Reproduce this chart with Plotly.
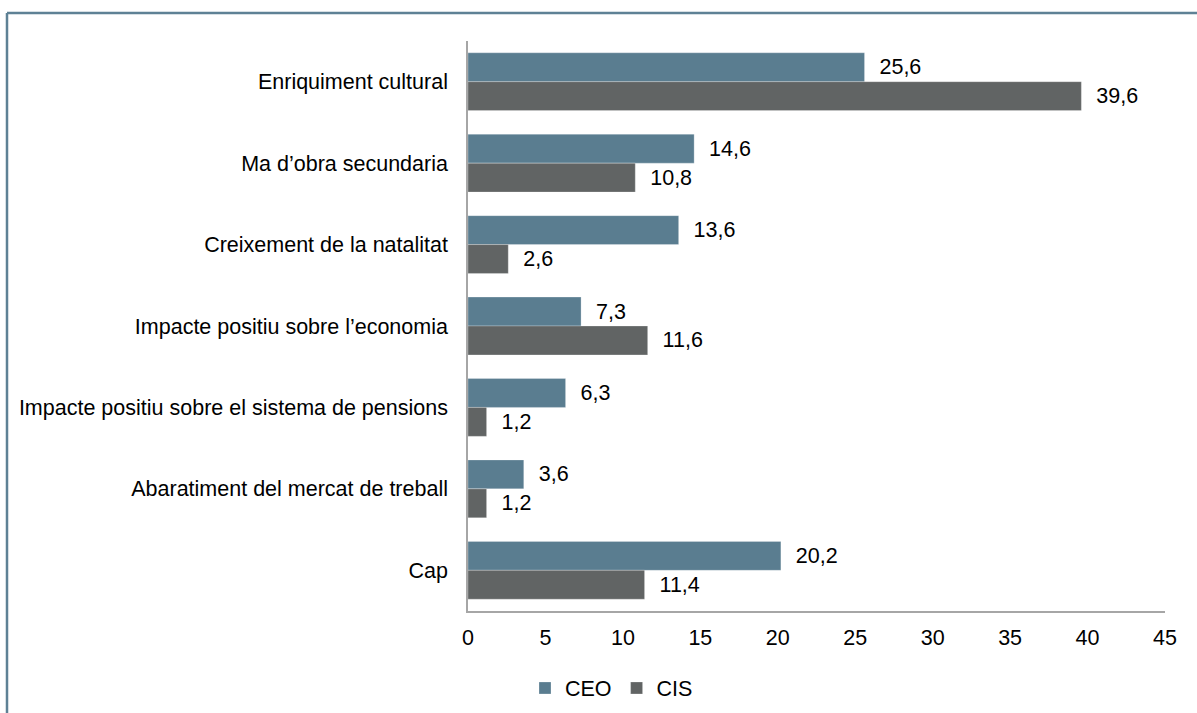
import plotly.graph_objects as go

categories = [
    "Enriquiment cultural",
    "Ma d\u2019obra secundaria",
    "Creixement de la natalitat",
    "Impacte positiu sobre l\u2019economia",
    "Impacte positiu sobre el sistema de pensions",
    "Abaratiment del mercat de treball",
    "Cap",
]
ceo_values = [25.6, 14.6, 13.6, 7.3, 6.3, 3.6, 20.2]
cis_values = [39.6, 10.8, 2.6, 11.6, 1.2, 1.2, 11.4]
x_ticks = [0, 5, 10, 15, 20, 25, 30, 35, 40, 45]

FONT = "Liberation Sans, Arial, sans-serif"
FS = 21.5
CEO_COLOR = "#5A7D90"
CIS_COLOR = "#616464"

fig = go.Figure()
for name, vals, col in [("CEO", ceo_values, CEO_COLOR), ("CIS", cis_values, CIS_COLOR)]:
    fig.add_trace(go.Bar(
        name=name, y=categories, x=vals, orientation="h",
        marker=dict(color=col, line=dict(color="rgba(255,255,255,0.5)", width=0.5)),
        texttemplate="\u00a0\u00a0%{x:.1f}", textposition="outside",
        constraintext="none", cliponaxis=False,
        textfont=dict(family=FONT, size=FS, color="#000000"),
    ))

W, H = 1197, 713
L, R, T, B = 468, 32, 41, 102
pw, ph = W - L - R, H - T - B

def px(x):
    return (x - L) / pw

def py(y):
    return (H - B - y) / ph

fig.update_layout(
    width=W, height=H,
    margin=dict(l=L, r=R, t=T, b=B, autoexpand=False),
    paper_bgcolor="white", plot_bgcolor="white",
    barmode="group", bargap=0.29, bargroupgap=0,
    separators=",.",
    font=dict(family=FONT, size=FS, color="#000000"),
    showlegend=True,
    legend=dict(orientation="h", xref="container", yref="container",
                x=525 / W, y=(H - 688) / H, xanchor="left", yanchor="middle",
                font=dict(family=FONT, size=FS, color="#000000"),
                itemwidth=30, traceorder="normal"),
    xaxis=dict(range=[0, 45], tickvals=x_ticks, showgrid=False, zeroline=False,
               showline=True, linecolor="#A6A6A6", linewidth=1.5, ticks="",
               ticklabelstandoff=6, automargin=False,
               tickfont=dict(family=FONT, size=FS, color="#000000")),
    yaxis=dict(autorange="reversed", showgrid=False, showline=True,
               linecolor="#A6A6A6", linewidth=1.5, ticks="",
               ticklabelstandoff=14, automargin=False,
               tickfont=dict(family=FONT, size=FS, color="#000000")),
    shapes=[
        dict(type="line", xref="paper", yref="paper", x0=px(7), x1=px(1210), y0=py(13), y1=py(13),
             line=dict(color="#5E8195", width=2.5)),
        dict(type="line", xref="paper", yref="paper", x0=px(7), x1=px(7), y0=py(13), y1=py(730),
             line=dict(color="#5E8195", width=2.5)),
    ],
)

fig.write_html("out.html", config={"displayModeBar": False},
               post_script="document.body.style.margin='0';")
